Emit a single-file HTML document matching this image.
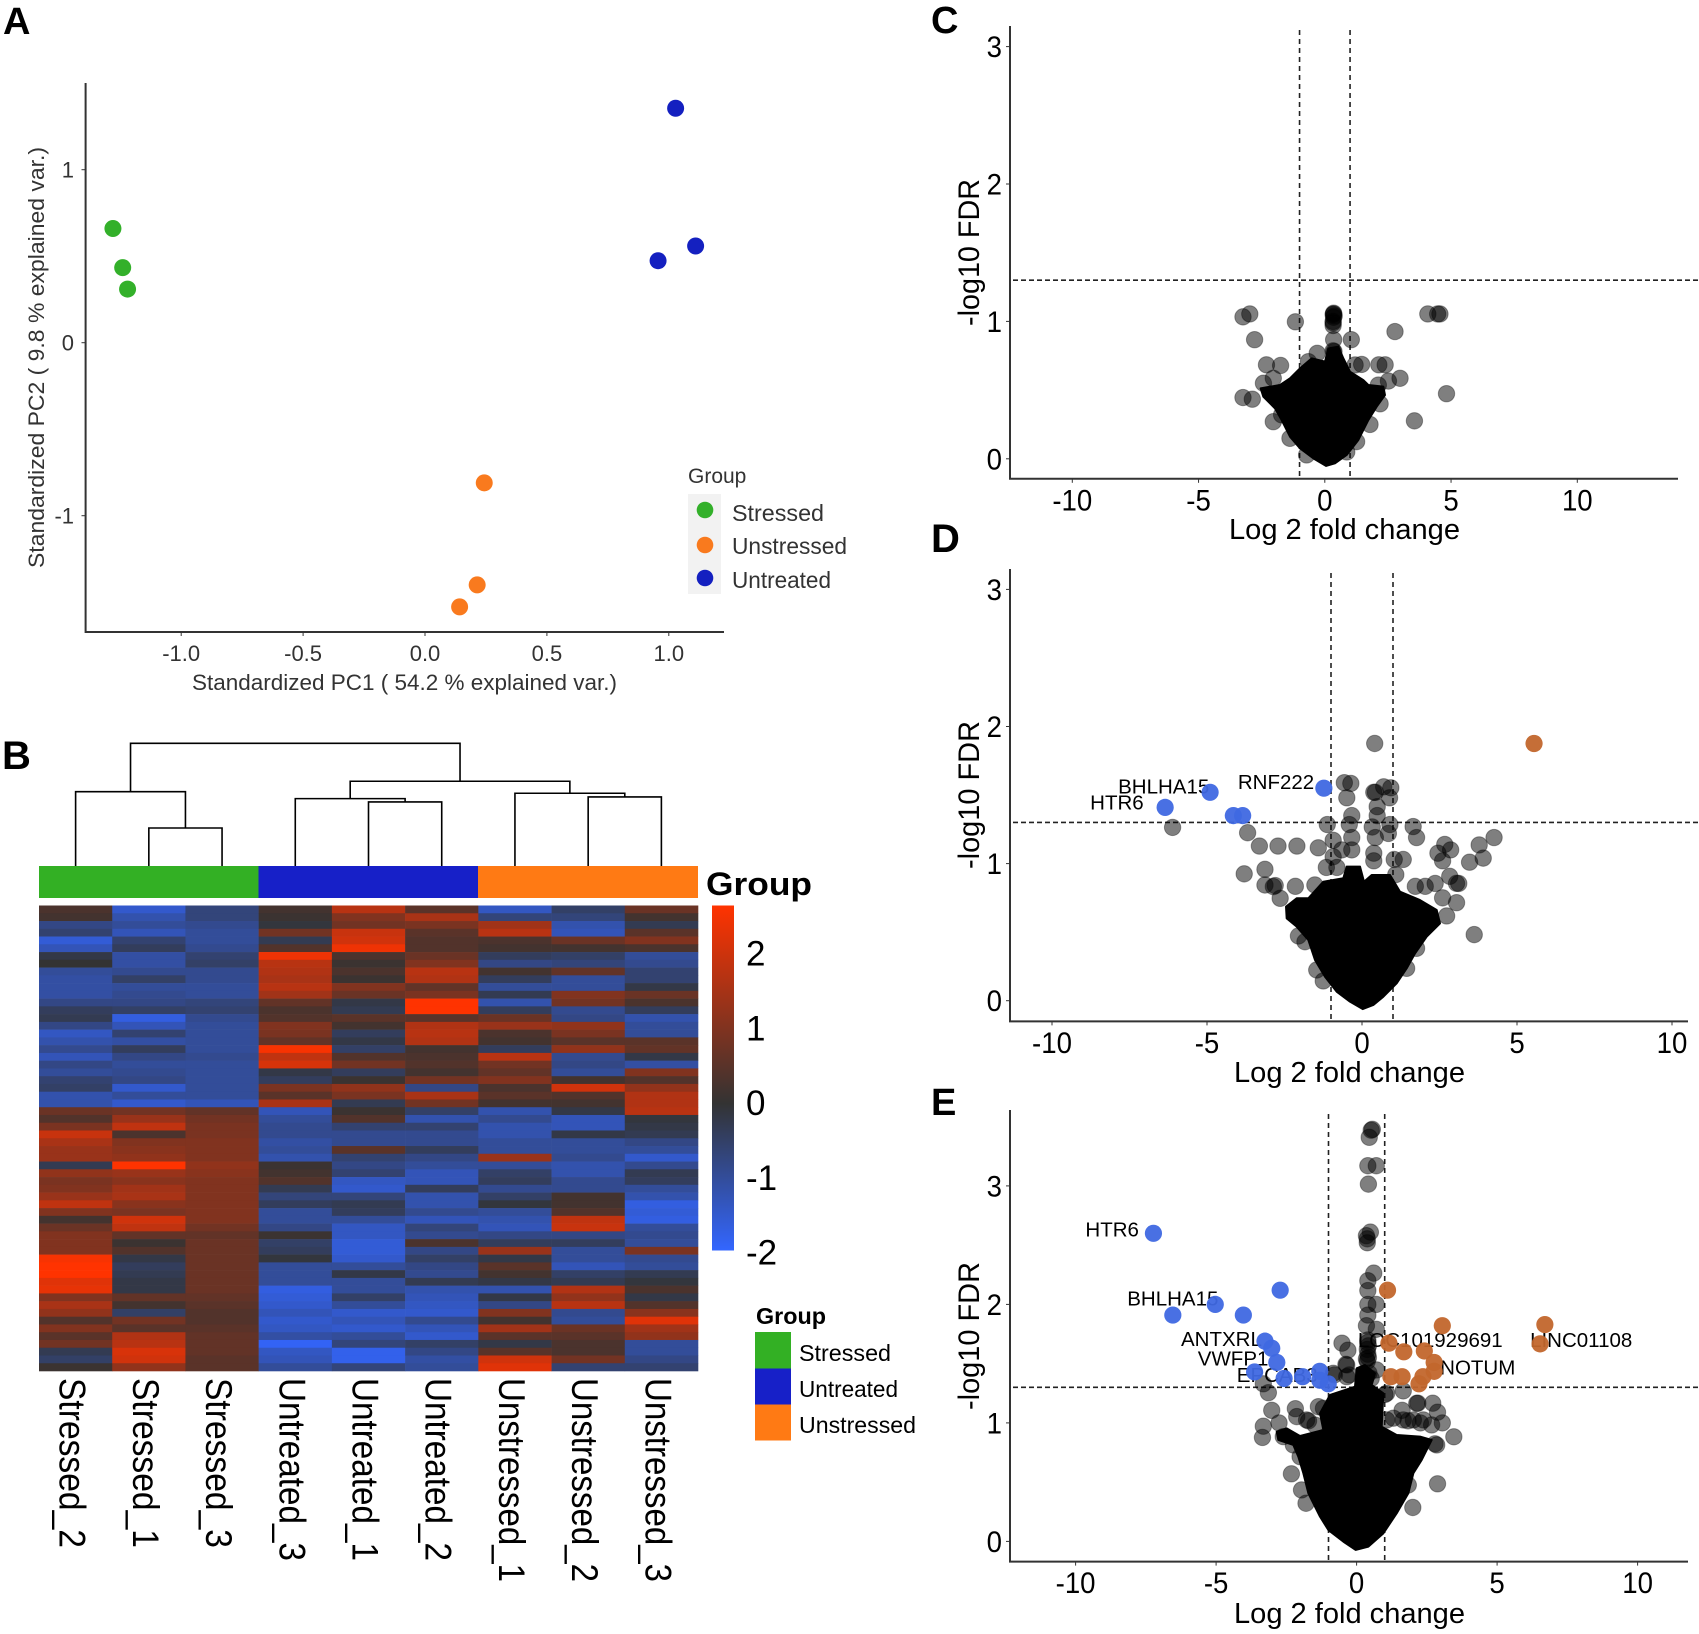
<!DOCTYPE html>
<html lang="en">
<head>
<meta charset="utf-8">
<title>PCA, heatmap and volcano plots</title>
<style>
html,body{margin:0;padding:0;background:#fff;}
svg{display:block;}
text{font-family:"Liberation Sans",sans-serif;}
</style>
</head>
<body>
<svg id="figure" xmlns="http://www.w3.org/2000/svg" width="1699" height="1634" viewBox="0 0 1699 1634">
<defs>
<linearGradient id="heatRamp" x1="0" y1="0" x2="0" y2="1">
<stop offset="0" stop-color="#ff3300"/>
<stop offset="0.574" stop-color="#333333"/>
<stop offset="1" stop-color="#3366ff"/>
</linearGradient>
</defs>
<rect width="1699" height="1634" fill="#fff"/>

<text x="3" y="34" font-size="38" font-weight="bold">A</text>
<text x="2" y="769" font-size="40" font-weight="bold">B</text>
<text x="931" y="33" font-size="38" font-weight="bold">C</text>
<text x="931" y="552" font-size="40" font-weight="bold">D</text>
<text x="931" y="1115" font-size="38" font-weight="bold">E</text>

<g id="panelA">
<text x="192" y="690" font-size="22" fill="#333" textLength="425" lengthAdjust="spacingAndGlyphs">Standardized PC1 ( 54.2 % explained var.)</text>
<text transform="translate(44,568) rotate(-90)" font-size="22" fill="#333" textLength="421" lengthAdjust="spacingAndGlyphs">Standardized PC2 ( 9.8 % explained var.)</text>
<text x="688" y="483" font-size="21" fill="#333">Group</text>
<rect x="688" y="494" width="33" height="100" fill="#f2f2f2"/>
<circle cx="705" cy="510" r="8.3" fill="#33b02a"/>
<circle cx="705" cy="545" r="8.3" fill="#f97a1e"/>
<circle cx="705" cy="578" r="8.3" fill="#1420c0"/>
<text x="732" y="521" font-size="23" fill="#333" textLength="92" lengthAdjust="spacingAndGlyphs">Stressed</text>
<text x="732" y="554" font-size="23" fill="#333" textLength="115" lengthAdjust="spacingAndGlyphs">Unstressed</text>
<text x="732" y="588" font-size="23" fill="#333" textLength="99" lengthAdjust="spacingAndGlyphs">Untreated</text>
</g>

<g id="panelB">
<rect x="39" y="866" width="219.5" height="32" fill="#33b024"/>
<rect x="258.5" y="866" width="219.5" height="32" fill="#1720c8"/>
<rect x="478" y="866" width="220" height="32" fill="#ff7a14"/>
<text x="706" y="895" font-size="32" font-weight="bold" textLength="106" lengthAdjust="spacingAndGlyphs">Group</text>
<rect x="712" y="905.5" width="22" height="345" fill="url(#heatRamp)"/>
<text x="756" y="1324" font-size="23" font-weight="bold" textLength="70" lengthAdjust="spacingAndGlyphs">Group</text>
<rect x="755" y="1332" width="36" height="36.5" fill="#33b024"/>
<rect x="755" y="1368.5" width="36" height="36" fill="#1720c8"/>
<rect x="755" y="1404.5" width="36" height="36" fill="#ff7a14"/>
<text x="799" y="1361" font-size="23" textLength="92" lengthAdjust="spacingAndGlyphs">Stressed</text>
<text x="799" y="1397" font-size="23" textLength="99" lengthAdjust="spacingAndGlyphs">Untreated</text>
<text x="799" y="1433" font-size="23" textLength="117" lengthAdjust="spacingAndGlyphs">Unstressed</text>
</g>

<g id="panelC">
<text x="1229" y="539" font-size="29" textLength="231" lengthAdjust="spacingAndGlyphs">Log 2 fold change</text>
<text transform="translate(979,326) rotate(-90)" font-size="30" textLength="147" lengthAdjust="spacingAndGlyphs">-log10 FDR</text>
</g>
<g id="panelD">
<text x="1234" y="1082" font-size="29" textLength="231" lengthAdjust="spacingAndGlyphs">Log 2 fold change</text>
<text transform="translate(979,869) rotate(-90)" font-size="30" textLength="148" lengthAdjust="spacingAndGlyphs">-log10 FDR</text>
</g>
<g id="panelE">
<text x="1234" y="1623" font-size="29" textLength="231" lengthAdjust="spacingAndGlyphs">Log 2 fold change</text>
<text transform="translate(979,1410) rotate(-90)" font-size="30" textLength="148" lengthAdjust="spacingAndGlyphs">-log10 FDR</text>
</g>
</svg>

<script>
/* ---------- PCA data ---------- */
const pcaStressed = [[-1.28,0.66],[-1.24,0.434],[-1.22,0.31]];
const pcaUnstressed = [[0.243,-0.81],[0.214,-1.40],[0.142,-1.527]];
const pcaUntreated = [[1.028,1.355],[1.11,0.559],[0.956,0.474]];
const pcaXTicks = ["-1.0","-0.5","0.0","0.5","1.0"];
const pcaYTicks = ["-1","0","1"];

/* ---------- Heatmap data (one array per column, top row first) ---------- */
const heatColumnNames = ["Stressed_2","Stressed_1","Stressed_3","Untreated_3","Untreated_1","Untreated_2","Unstressed_1","Unstressed_2","Unstressed_3"];
const heatStressed2 = [.3,.2,-.8,-.6,-1.6,-1.3,-.2,0,-1,-1.1,-1.1,-1.1,-.8,-.4,-.3,-.8,-1.4,-1.2,-.9,-1.3,-.8,-1,-.6,-.5,-1.2,-1.2,.7,.4,.9,1.9,1.5,1.3,1.3,-.3,1.2,.9,1,1.3,1.8,1,.2,.7,1,1,1,2.5,2.6,2.6,2.2,2.3,1,1.5,1.2,.4,1,.5,.8,-.3,-.5,.1];
const heatStressed1 = [-1.5,-1.2,-1,-1.3,-.6,-.4,-1.1,-1.1,-.9,-.5,-1,-.9,-.8,-.5,-1.7,-1.3,-.6,-1.1,-.4,-.8,-1,-.9,-.8,-1.5,-1,-1.5,.8,1.3,1.8,.3,1,1.1,1.2,2.6,1.3,1.1,1.4,1.5,1.1,.9,2,1.8,.6,.1,.4,-.2,-.4,-.3,-.2,-.2,.6,.2,-.5,.8,.5,1.6,1.7,2.1,2,1.2];
const heatStressed3 = [-.7,-.7,-.9,-1,-1,-.9,-.6,-.5,-.9,-.9,-1,-1,-.7,-.6,-.9,-1,-1,-1,-1,-.9,-1,-1,-1,-1,-1,-1.3,.6,.8,.9,.9,1,1,1,1.2,1.1,1,1,1,1,1,1,.8,.6,.7,.7,.7,.7,.7,.7,.7,.6,.5,.4,.4,.5,.6,.6,.6,.5,.5];
const heatUntreated3 = [.2,.1,-.1,.8,-.3,.4,2.4,1.7,1.6,1.5,1.7,1.4,.6,.3,.4,1,.9,.6,2.5,1.8,2.1,-.2,-.4,.9,.5,1.5,-1.3,-1,-.9,-.9,-1.1,-1,-1.2,.1,.2,.4,-.3,-.7,-.4,-1,-1,-.8,.1,-.5,-.4,-.1,-1,-1,-1,-1.7,-1.6,-1.5,-1.3,-1.5,-1.4,-1.1,-1.9,-1.4,-1.3,-1];
const heatUntreated1 = [1.7,1,.8,1.9,2,2.4,.3,.1,.3,.1,1,.7,-.2,-.3,.5,.2,-.4,-.2,-.5,.4,.8,-.4,.1,1.2,.9,-.3,.1,.4,-.6,-.9,-.9,.5,-.6,-.8,-.6,-1.4,-1.5,-.7,-.3,-.4,-1,-1.4,-1.4,-1.6,-1.6,-1.5,-1,-.2,-1,-1,-.5,-1,-1.5,-1.3,-1.5,-1,-.7,-1.8,-1.8,-.7];
const heatUntreated2 = [.5,1.5,.9,.5,.4,.4,.7,1,1.7,1.6,.6,.9,2.7,2.7,.5,1.6,1.7,1.6,.2,.3,.4,.2,.8,-.8,1.5,.8,-.5,-1.2,-.6,-.9,-.9,-.4,-.8,-1,-1.3,-1.3,-.4,-1.2,-1.2,-.9,-1.3,-.7,-.9,.3,-.8,-.5,-.8,-.9,-.3,-1.2,-1.3,-1.4,-1.5,-.9,-1.3,-1.5,-.5,-.8,-1.1,-1];
const heatUnstressed1 = [-1.4,-.7,1.4,1.7,.3,.2,-.4,-.8,.2,-.4,-1,-.3,-1.2,-.4,.7,1.3,.3,.2,-.4,1.7,.8,.6,1,.3,.5,.2,-1.2,-.9,-1.2,-1.2,-1,-1,1.3,-1,-.5,-.4,-.9,-.5,-.1,-1,-1.2,-1.3,-.8,-.4,1.3,-.2,.5,.2,-.2,-1.2,-.2,-.8,1,.2,1.4,.5,-.2,.5,2,2.2];
const heatUnstressed2 = [-.5,-.7,-1.2,-1.3,.7,.2,-.5,-.7,.6,-1,-1,1,.8,-.9,-.8,1.2,.9,.5,1.2,-.9,-.8,-1,.2,2,.4,.2,-.2,-1.3,-1.3,-.2,-1,-1,-.9,-1.2,-1.2,-.9,-.9,.2,.2,.4,1.8,1.9,-.8,-.4,-1,-1,-1.3,-.5,-.3,1.6,1.2,1.7,-.9,-1,.7,.5,.3,.3,.8,-.6];
const heatUnstressed3 = [.7,.2,-.3,.5,1,.3,-1,-.9,-.6,-.6,-.2,.7,.3,-.4,-1.2,-1,-1,.5,.6,-.2,-1.1,1,.4,1.2,1.6,1.6,1.7,-.1,-.2,-.3,-.8,-1,-1.5,-.9,-.3,-.4,-1,-1.2,-1.7,-1.6,-1.7,-1,-.9,-1,.9,-.9,-1,-.3,-.1,.3,-.2,.4,1.1,2.2,1.4,1.2,-1,-1,-.8,-.6];
const colorbarTicks = [2,1,0,-1,-2];
/* merge height, left child, right child; a number on its own is a column index */
const dendroTree = [1.0,[.605,0,[.308,1,2]],[.69,[.548,3,[.521,4,5]],[.592,6,[.562,7,8]]]];

/* ---------- Volcano data ---------- */
const volcanoXTicks = [-10,-5,0,5,10];
const volcanoCYTicks = [0,1,2,3];
const volcanoDYTicks = [0,1,2,3];
const volcanoEYTicks = [0,1,2,3];

const volcanoCGrey = [[-3.24,1.033],[-2.97,1.054],[-1.165,.997],[-2.78,.867],[.35,1.06],[.33,1.05],[.37,1.04],[.35,1.054],[.35,1.03],[.33,1.0],[.33,.99],[.33,.97],[.365,.78],[.35,.867],[1.05,.867],[2.78,.926],[4.08,1.054],[4.47,1.054],[4.56,1.054],[4.82,.474],[3.55,.276],[-2.31,.684],[-1.75,.679],[-.3,.768],[-.65,.707],[.33,.786],[1.46,.687],[1.2,.683],[2.14,.684],[2.39,.684],[2.52,.566],[2.98,.586],[-3.24,.446],[-2.87,.434],[-2.43,.55],[-2.04,.586],[-2.04,.27],[1.79,.25],[2.12,.537],[2.19,.40],[-1.38,.149],[-1.71,.32],[-.72,.028],[1.26,.125],[.87,.05]];
const volcanoCMass = [[.048,-.052],[-.454,.003],[-.982,.076],[-1.378,.161],[-1.708,.282],[-1.972,.367],[-2.434,.452],[-2.54,.513],[-1.774,.537],[-1.378,.586],[-.982,.658],[-.52,.731],[.008,.707],[.14,.804],[.536,.816],[.734,.731],[1.0,.634],[1.526,.573],[1.724,.537],[2.318,.525],[2.384,.464],[2.054,.379],[1.724,.282],[1.328,.137],[.866,.028],[.404,-.033]];

const volcanoDGrey = [[.41,1.876],[-6.11,1.264],[-3.69,1.225],[-3.31,1.128],[-2.71,1.128],[-2.1,1.128],[-1.41,1.115],[-3.8,.925],[-3.13,.958],[-3.13,.844],[-2.86,.832],[-2.8,.84],[-2.64,.747],[-2.15,.834],[-1.52,.844],[-.57,1.59],[-.36,1.585],[-.49,1.48],[.38,1.52],[.43,1.52],[.7,1.56],[.93,1.553],[.89,1.48],[.49,1.415],[-.33,1.35],[.49,1.35],[-1.12,1.285],[-.41,1.285],[.33,1.267],[.9,1.285],[1.65,1.27],[1.76,1.19],[.85,1.22],[.43,1.19],[-.33,1.19],[-.93,1.17],[-.65,1.1],[-.33,1.1],[.38,1.076],[.38,1.02],[-.93,1.05],[1.04,1.03],[1.33,1.03],[2.45,1.076],[2.67,1.14],[2.86,1.1],[2.6,1.02],[3.47,1.01],[3.78,1.136],[3.91,1.04],[4.26,1.19],[1.72,.834],[2.04,.834],[2.83,.907],[3.12,.855],[3.05,.856],[3.05,.715],[2.6,.75],[2.73,.618],[3.62,.482],[-1.15,.972],[-.81,.972],[1.09,.92],[2.36,.855],[-2.05,.472],[-1.84,.43],[-1.46,.224],[-1.25,.144],[1.44,.236],[1.76,.382]];
const volcanoDMass = [[.022,-.061],[-.387,-.007],[-.817,.066],[-1.193,.175],[-1.516,.297],[-1.731,.443],[-2.107,.54],[-2.43,.601],[-2.451,.686],[-2.107,.747],[-1.731,.747],[-1.247,.868],[-.602,.893],[-.494,.978],[-.064,.978],[.065,.868],[.312,.917],[.904,.917],[1.226,.795],[1.871,.734],[2.409,.662],[2.516,.564],[2.086,.467],[1.71,.345],[1.441,.236],[1.119,.127],[.689,.029],[.366,-.031]];
const volcanoDBlue = [[-6.35,1.41],[-4.9,1.52],[-4.15,1.35],[-3.85,1.35],[-1.23,1.55]];
const volcanoDBrown = [[5.55,1.876]];

const volcanoEGrey = [[.52,3.47],[.56,3.477],[.45,3.41],[.4,3.17],[.7,3.17],[.42,3.015],[.49,2.61],[.35,2.58],[.38,2.553],[.38,2.52],[.61,2.264],[.4,2.2],[.4,2.117],[.4,2.0],[.7,2.0],[.4,1.91],[.35,1.82],[.7,1.79],[.4,1.68],[.4,1.7],[.42,1.65],[.38,1.62],[.4,1.58],[.42,1.55],[.38,1.52],[.35,1.54],[-.52,1.673],[-.31,1.613],[-.38,1.494],[-.79,1.405],[-.26,1.405],[.44,1.42],[.52,1.375],[-3.32,1.33],[-3.14,1.255],[-3.02,1.106],[-2.76,1.0],[-3.32,.972],[-3.35,.877],[-2.61,.884],[-2.18,1.12],[-1.71,1.017],[-2.32,.57],[-1.8,.322],[2.88,.486],[3.46,.883],[2.0,.286],[3.05,1.0],[2.88,1.09],[2.71,1.166],[2.18,1.166],[1.66,1.27],[1.01,1.24],[1.62,1.106],[2.27,1.0],[1.83,1.017],[2.79,.823],[-1.96,.434],[1.84,.476],[2.85,.814],[1.66,1.025],[2.02,1.025],[2.376,1.025],[2.67,.983],[2.14,1.165],[1.07,1.025],[1.31,1.04],[-1.18,1.123],[-1.36,1.137],[-1.78,1.025],[-1.48,.982],[-2.13,1.053],[-2.25,.814],[-2.01,.715],[-.83,1.418],[-.35,1.489],[-.35,1.39],[.71,1.447],[1.07,1.25]];
const volcanoEMass = [[-.033,-.072],[-.472,-.002],[-1.005,.096],[-1.302,.209],[-1.717,.406],[-1.895,.575],[-2.073,.715],[-2.251,.814],[-2.785,.856],[-2.844,.926],[-2.488,.954],[-2.014,.89],[-1.183,.94],[-1.302,1.081],[-.946,1.236],[-.057,1.306],[.003,1.461],[.3,1.489],[.655,1.418],[.537,1.32],[.952,1.25],[.893,.968],[1.426,.898],[2.257,.884],[2.672,.856],[2.316,.687],[2.02,.575],[1.841,.406],[1.426,.237],[.952,.068],[.418,-.044]];
const volcanoEBlue = [[-7.23,2.60],[-6.54,1.91],[-5.03,2.0],[-4.03,1.91],[-2.72,2.12],[-3.26,1.69],[-3.02,1.63],[-2.84,1.51],[-3.63,1.43],[-2.58,1.375],[-1.92,1.39],[-1.31,1.435],[-1.31,1.36],[-1.01,1.33]];
const volcanoEBrown = [[1.1,2.12],[3.05,1.82],[6.7,1.83],[6.53,1.667],[1.15,1.673],[1.68,1.6],[2.41,1.607],[2.76,1.51],[2.76,1.435],[1.22,1.39],[1.62,1.39],[2.36,1.39],[2.22,1.33]];

const volcanoDLabelNames = ["HTR6","BHLHA15","RNF222"];
const volcanoDLabelAnchors = [[-6.35,1.41],[-4.9,1.52],[-1.23,1.55]];
const volcanoELabelNames = ["HTR6","BHLHA15","ANTXRL","VWFP1","EPCAB3","LOC101929691","LINC01108","NOTUM"];
const volcanoELabelAnchors = [[-7.23,2.60],[-5.03,2.0],[-3.26,1.69],[-2.84,1.51],[-1.31,1.36],[1.15,1.673],[6.53,1.667],[2.76,1.435]];

/* ---------- helpers ---------- */
const SVGNS = "http://www.w3.org/2000/svg";
function make(tag, attrs, parent, content) {
  const node = document.createElementNS(SVGNS, tag);
  for (const key in attrs) node.setAttribute(key, attrs[key]);
  if (content !== undefined) node.textContent = content;
  parent.appendChild(node);
  return node;
}
function linearAxis(zeroPx, pxPerUnit) {
  return function (v) { return zeroPx + v * pxPerUnit; };
}
function mix(a, b, t) { return Math.round(a + (b - a) * t); }
function heatColor(v) {
  const mid = [51, 51, 51], hi = [255, 51, 0], lo = [51, 102, 255];
  const end = v >= 0 ? hi : lo;
  const t = Math.min(1, v >= 0 ? v / 2.6 : -v / 2);
  return "rgb(" + mix(mid[0], end[0], t) + "," + mix(mid[1], end[1], t) + "," + mix(mid[2], end[2], t) + ")";
}

/* ---------- panel A ---------- */
(function () {
  const g = document.getElementById("panelA");
  const xA = linearAxis(425, 243.8), yA = linearAxis(342.7, -173);
  const axes = make("path", {d: "M85.6 83V632H724", fill: "none", stroke: "#333", "stroke-width": 2}, g);
  
  
  pcaXTicks.forEach(function (label) {
    const px = xA(parseFloat(label));
    const tick = make("line", {x1: px, x2: px, y1: 632, y2: 636, stroke: "#333", "stroke-width": 1}, g);
    
    
    const text = make("text", {x: px, y: 661, "font-size": 22, fill: "#333", "text-anchor": "middle"}, g, label);
    
    
  });
  pcaYTicks.forEach(function (label) {
    const py = yA(parseFloat(label));
    const tick = make("line", {x1: 81.5, x2: 85.6, y1: py, y2: py, stroke: "#333", "stroke-width": 1}, g);
    
    
    const text = make("text", {x: 74, y: py + 8, "font-size": 22, fill: "#333", "text-anchor": "end"}, g, label);
    
    
  });
  [[pcaStressed, "#33b02a"], [pcaUnstressed, "#f97a1e"], [pcaUntreated, "#1420c0"]].forEach(function (series) {
    series[0].forEach(function (p) {
      const dot = make("circle", {cx: xA(p[0]), cy: yA(p[1]), r: 8.5, fill: series[1]}, g);
      
      
    });
  });
})();

/* ---------- panel B ---------- */
(function () {
  const g = document.getElementById("panelB");
  const columns = [heatStressed2, heatStressed1, heatStressed3, heatUntreated3, heatUntreated1, heatUntreated2, heatUnstressed1, heatUnstressed2, heatUnstressed3];
  const left = 39, top = 905.5, width = 659, height = 465.5;
  const colX = function (i) { return left + i * width / columns.length; };
  const colCenter = function (i) { return colX(i + 0.5); };
  const rowY = function (i) { return top + i * height / columns[0].length; };
  columns.forEach(function (col, c) {
    col.forEach(function (v, r) {
      const cell = make("rect", {x: colX(c), y: rowY(r), width: colX(c + 1) - colX(c) + 0.3, height: rowY(r + 1) - rowY(r) + 0.3, fill: heatColor(v)}, g);
      
      
    });
  });
  heatColumnNames.forEach(function (name, c) {
    const len = name.indexOf("Unstressed") === 0 ? 204 : (name.indexOf("Untreated") === 0 ? 183 : 170);
    const label = make("text", {transform: "translate(" + (colCenter(c) - 16) + ",1378) rotate(90)", "font-size": 37, textLength: len, lengthAdjust: "spacingAndGlyphs"}, g, name);
    
    
  });
  const cbY = linearAxis(1103, -74.75);
  colorbarTicks.forEach(function (v) {
    const label = make("text", {x: 746, y: cbY(v) + 12, "font-size": 35}, g, String(v));
    
    
  });
  const dendroY = function (h) { return 865.7 - h * 122.4; };
  function drawNode(node) {
    if (typeof node === "number") return {x: colCenter(node), y: 866};
    const a = drawNode(node[1]), b = drawNode(node[2]);
    const y = dendroY(node[0]);
    const link = make("path", {d: "M" + a.x + " " + a.y + "V" + y + "H" + b.x + "V" + b.y, fill: "none", stroke: "#000", "stroke-width": 1.6}, g);
    
    
    return {x: (a.x + b.x) / 2, y: y};
  }
  drawNode(dendroTree);
})();

/* ---------- volcano panels ---------- */
function drawVolcano(g, prefix, cfg) {
  const xS = cfg.x, yS = cfg.y;
  const vLines = [-1, 1];
  vLines.forEach(function (v) {
    const line = make("line", {x1: xS(v), x2: xS(v), y1: cfg.top + 4, y2: cfg.bottom, stroke: "#222", "stroke-width": 1.6, "stroke-dasharray": "5 4"}, g);
    
    
  });
  const hLine = make("line", {x1: 1013, x2: 1699, y1: yS(1.3), y2: yS(1.3), stroke: "#222", "stroke-width": 1.6, "stroke-dasharray": "5 3"}, g);
  
  

  const axes = make("path", {d: "M1010 " + cfg.top + "V" + cfg.bottom + "H" + cfg.right, fill: "none", stroke: "#333", "stroke-width": 2}, g);
  
  

  volcanoXTicks.forEach(function (v) {
    const tick = make("line", {x1: xS(v), x2: xS(v), y1: cfg.bottom, y2: cfg.bottom + 4, stroke: "#333", "stroke-width": 1}, g);
    
    
    const text = make("text", {transform: "translate(" + xS(v) + "," + (cfg.bottom + 31.5) + ") scale(.92,1)", "font-size": 30, "text-anchor": "middle"}, g, String(v));
    
    
  });
  cfg.yTicks.forEach(function (v) {
    const tick = make("line", {x1: 1006, x2: 1010, y1: yS(v), y2: yS(v), stroke: "#333", "stroke-width": 1}, g);
    
    
    const text = make("text", {transform: "translate(1002," + (yS(v) + 10.5) + ") scale(.92,1)", "font-size": 30, "text-anchor": "end"}, g, String(v));
    
    
  });

  cfg.labels.forEach(function (name, i) {
    const a = cfg.labelAnchors[i], off = cfg.labelOffsets[i];
    const text = make("text", {x: xS(a[0]) + off[0], y: yS(a[1]) + off[1], "font-size": 20.5}, g, name);
    
    
  });

  cfg.grey.forEach(function (p) {
    const dot = make("circle", {cx: xS(p[0]), cy: yS(p[1]), r: 8.2, fill: "rgba(0,0,0,0.5)", stroke: "rgba(0,0,0,0.35)", "stroke-width": 1}, g);
    
    
  });
  const pts = cfg.mass.map(function (p) { return xS(p[0]) + "," + yS(p[1]); }).join(" ");
  const mass = make("polygon", {points: pts, fill: "#000", stroke: "#000", "stroke-width": 2, "stroke-linejoin": "round"}, g);
  
  

  cfg.blue.forEach(function (p) {
    const dot = make("circle", {cx: xS(p[0]), cy: yS(p[1]), r: 8.6, fill: "#3f68e2", "fill-opacity": 0.95}, g);
    
    
  });
  cfg.brown.forEach(function (p) {
    const dot = make("circle", {cx: xS(p[0]), cy: yS(p[1]), r: 8.6, fill: "#c2662c", "fill-opacity": 0.95}, g);
    
    
  });
}

drawVolcano(document.getElementById("panelC"), "volcano-c", {
  x: linearAxis(1324.8, 25.25), y: linearAxis(458.8, -137.4),
  top: 26, bottom: 478.8, right: 1678, yTicks: volcanoCYTicks,
  grey: volcanoCGrey, mass: volcanoCMass, blue: [], brown: [],
  labels: [], labelAnchors: [], labelOffsets: []
});
drawVolcano(document.getElementById("panelD"), "volcano-d", {
  x: linearAxis(1362, 31), y: linearAxis(1000.7, -137.1),
  top: 569, bottom: 1021.4, right: 1688, yTicks: volcanoDYTicks,
  grey: volcanoDGrey, mass: volcanoDMass, blue: volcanoDBlue, brown: volcanoDBrown,
  labels: volcanoDLabelNames, labelAnchors: volcanoDLabelAnchors,
  labelOffsets: [[-75, 2], [-92, 1], [-86, 1]]
});
drawVolcano(document.getElementById("panelE"), "volcano-e", {
  x: linearAxis(1356.6, 28.1), y: linearAxis(1541.4, -118.5),
  top: 1110, bottom: 1561.6, right: 1688, yTicks: volcanoEYTicks,
  grey: volcanoEGrey, mass: volcanoEMass, blue: volcanoEBlue, brown: volcanoEBrown,
  labels: volcanoELabelNames, labelAnchors: volcanoELabelAnchors,
  labelOffsets: [[-68, 3], [-88, 1], [-84, 5], [-79, 3], [-83, 2], [-31, 4], [-10, 3], [6, 3]]
});
</script>
</body>
</html>
